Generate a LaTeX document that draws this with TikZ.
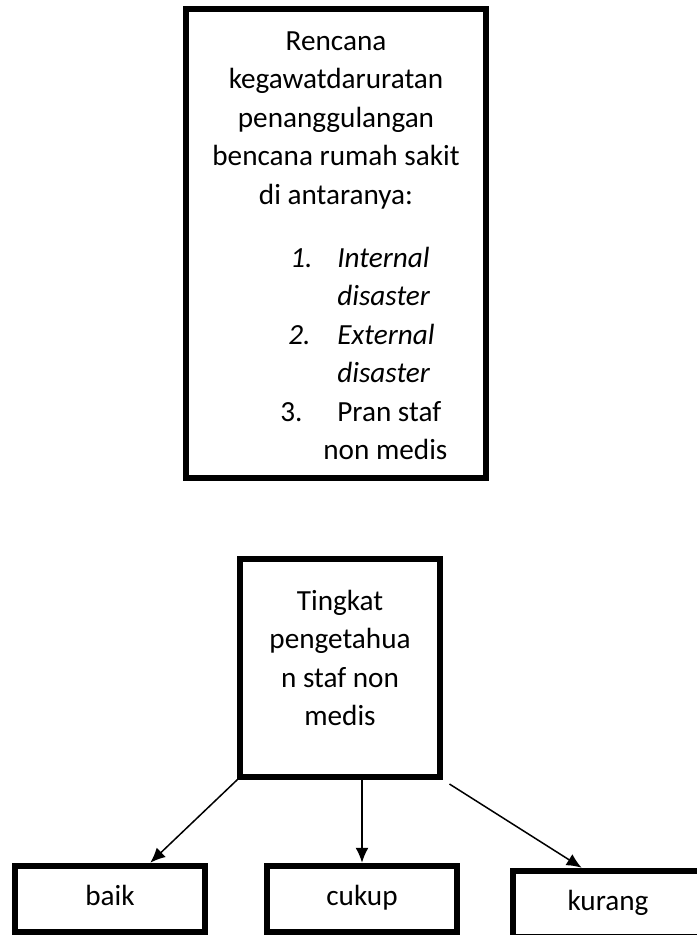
\documentclass[tikz,border=0pt]{standalone}
\usepackage{fontspec}
\setmainfont{Carlito}
\usepackage{tikz}
\usetikzlibrary{arrows.meta}
\tikzstyle{framebox} = [rectangle, draw=black, line width=3pt]
\tikzstyle{planframe} = [framebox, minimum width=150pt, minimum height=234.5pt]
\tikzstyle{levelframe} = [framebox, minimum width=99.75pt, minimum height=108.75pt]
\tikzstyle{category} = [framebox, minimum width=94.75pt, minimum height=33.25pt, text height=10pt, text depth=3.5pt]
\tikzstyle{plaintext} = [inner sep=0pt]
\tikzstyle{arrow} = [line width=0.75pt, -{Latex[length=7.5pt,width=6.5pt]}]
\begin{document}
\begin{tikzpicture}[x=0.5pt, y=-0.5pt, node distance=115.5pt, font=\fontsize{14.6}{19.25}\selectfont]
		\useasboundingbox (0,0) rectangle (696,935);
		\node (planbox) [planframe] at (336,243.5) {};
		\node (planhead) [plaintext, align=center] at ([yshift=-57pt]planbox.north) {Rencana\\kegawatdaruratan\\penanggulangan\\bencana rumah sakit\\di antaranya:};
		\node (planlist) [plaintext, align=left, anchor=west] at ([xshift=48.5pt,yshift=-55pt]planbox.west) {\hspace*{5pt}\makebox[23.5pt][l]{\textit{1.}}\textit{Internal}\\
			\hspace*{28.5pt}\textit{disaster}\\
			\hspace*{4pt}\makebox[24.5pt][l]{\textit{2.}}\textit{External}\\
			\hspace*{28.5pt}\textit{disaster}\\
			\makebox[28.5pt][l]{3.}Pran staf\\
			\hspace*{21.5pt}non medis};
		\node (levelbox) [levelframe, below of=planbox, node distance=212.25pt, xshift=2pt] {};
		\node (leveltext) [plaintext, align=center] at ([yshift=5pt]levelbox.center) {Tingkat\\pengetahua\\n staf non\\medis};
		\node (baik) [category, below of=levelbox, xshift=-115pt] {baik};
		\node (cukup) [category, below of=levelbox, xshift=11pt] {cukup};
		\node (kurang) [category, below of=levelbox, xshift=134pt, yshift=-2.5pt] {kurang};

		\draw [arrow] (levelbox.south west) -- (baik.42);
		\draw [arrow] (cukup.north |- levelbox.south) -- (cukup.north);
		\draw [arrow, shorten <=4pt] (levelbox.south east) -- (kurang.126);
	\end{tikzpicture}
\end{document}
